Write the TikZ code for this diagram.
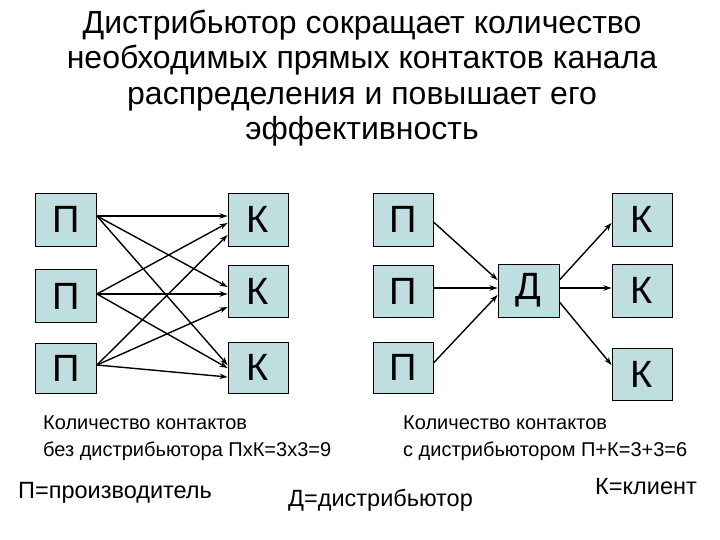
\documentclass[tikz,border=0pt]{standalone}
\usepackage{fontspec}
\setmainfont{Liberation Sans}
\usetikzlibrary{arrows.meta}
\definecolor{boxfill}{RGB}{190,222,224}
\tikzset{
  box/.style={draw=black, line width=0.9pt, fill=boxfill, minimum width=61pt, minimum height=53pt, inner sep=0pt, font=\fontsize{38}{38}\selectfont},
  conn/.style={line width=1.4pt, -{Stealth[length=8pt,width=5.5pt]}},
  note/.style={font=\fontsize{20}{27}\selectfont, align=left, inner sep=0pt},
  legend/.style={font=\fontsize{23.5}{24}\selectfont, inner sep=0pt},
}
\begin{document}
\begin{tikzpicture}[x=1pt,y=-1pt]
\useasboundingbox (0,0) rectangle (720,540);
\node[align=center, inner sep=0pt, font=\fontsize{32}{35.5}\selectfont] (title) at (362,78)
  {Дистрибьютор сокращает количество\\необходимых прямых контактов канала\\распределения и повышает его\\эффективность};
% left group
\node[box] (p1) at (66,219.5) {П};
\node[box] (p2) at (66,296) {П};
\node[box, minimum height=50pt] (p3) at (66,368) {П};
\node[box, minimum width=60pt] (k1) at (258,219.5) {К};
\node[box, minimum width=60pt, minimum height=52pt] (k2) at (258,291) {К};
\node[box, minimum width=60pt, minimum height=51pt] (k3) at (258,367.5) {К};
\draw[conn] ([yshift=3.5pt]p1.east) -- ([yshift=3.5pt]k1.west);
\draw[conn] ([yshift=3.5pt]p1.east) -- ([yshift=4pt]k2.west);
\draw[conn] ([yshift=3.5pt]p1.east) -- ([yshift=2.5pt]k3.west);
\draw[conn] ([yshift=2pt]p2.east) -- ([yshift=-3.5pt]k1.west);
\draw[conn] ([yshift=2pt]p2.east) -- ([yshift=-3pt]k2.west);
\draw[conn] ([yshift=2pt]p2.east) -- ([yshift=-0.5pt]k3.west);
\draw[conn] ([yshift=3pt]p3.east) -- ([yshift=-15.5pt]k1.west);
\draw[conn] ([yshift=3pt]p3.east) -- ([yshift=-16pt]k2.west);
\draw[conn] ([yshift=3pt]p3.east) -- ([yshift=-9.5pt]k3.west);
% right group
\node[box, minimum width=60pt] (q1) at (403,219.5) {П};
\node[box, minimum width=60pt, minimum height=52pt] (q2) at (403,291) {П};
\node[box, minimum width=60pt, minimum height=51pt] (q3) at (403,367.5) {П};
\node[box] (d) at (528.5,290.5) {Д};
\node[box, minimum width=60pt] (c1) at (642,219.5) {К};
\node[box, minimum width=60pt] (c2) at (642,290.5) {К};
\node[box, minimum width=60pt, minimum height=52pt] (c3) at (642,374) {К};
\draw[conn] ([yshift=-2.5pt]q1.east) -- ([yshift=10.5pt]d.west);
\draw[conn] ([yshift=3pt]q2.east) -- ([yshift=2.5pt]d.west);
\draw[conn] ([yshift=4.5pt]q3.east) -- ([yshift=-4.5pt]d.west);
\draw[conn] ([yshift=10.5pt]d.east) -- ([yshift=-3.5pt]c1.west);
\draw[conn] ([yshift=2.5pt]d.east) -- ([yshift=2.5pt]c2.west);
\draw[conn] ([yshift=-11.5pt]d.east) -- ([yshift=9pt]c3.west);
% notes
\node[note, anchor=west] (n1) at (43,438.5) {Количество контактов\\без дистрибьютора ПхК=3х3=9};
\node[note, anchor=west] (n2) at (403,438.5) {Количество контактов\\с дистрибьютором П+К=3+3=6};
\node[legend, anchor=west] (lp) at (18,493) {П=производитель};
\node[legend, anchor=west] (ld) at (288,500) {Д=дистрибьютор};
\node[legend, anchor=east] (lk) at (697,487) {К=клиент};
\end{tikzpicture}
\end{document}
